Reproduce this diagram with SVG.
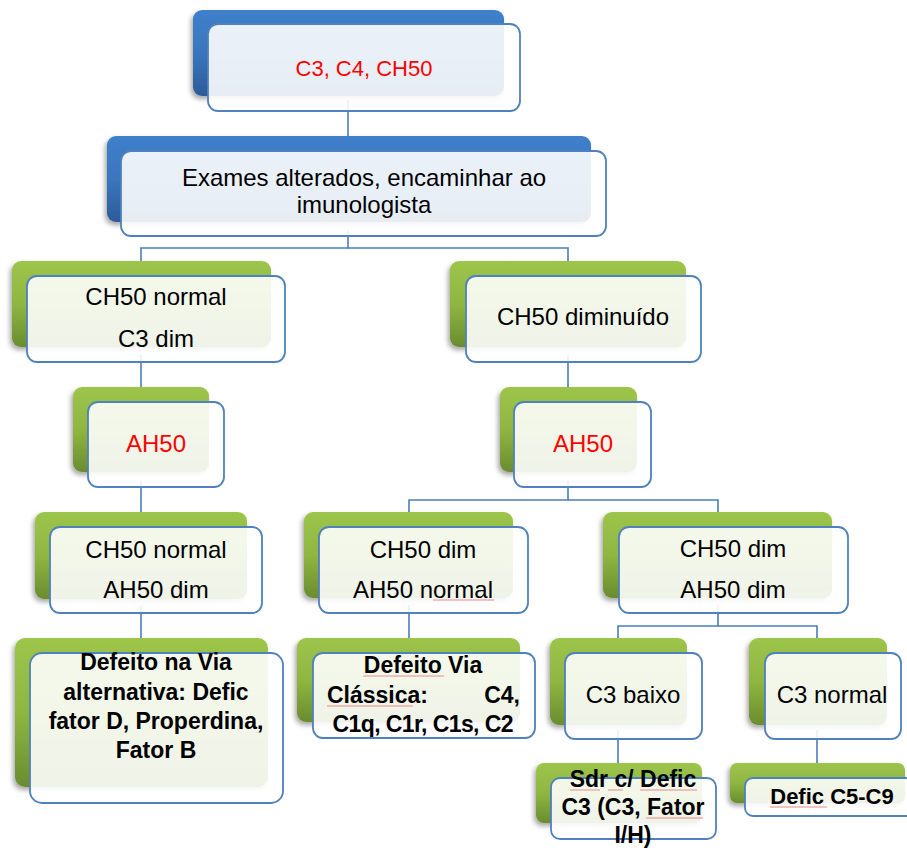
<svg xmlns="http://www.w3.org/2000/svg" width="907" height="850" viewBox="0 0 907 850">
<defs>
<linearGradient id="gBlue" x1="0" y1="0" x2="0" y2="1">
<stop offset="0" stop-color="#3f80cb"/>
<stop offset="0.5" stop-color="#3a76bd"/>
<stop offset="1" stop-color="#2c5b98"/>
</linearGradient>
<linearGradient id="gGreen" x1="0" y1="0" x2="0" y2="1">
<stop offset="0" stop-color="#9dc54b"/>
<stop offset="0.5" stop-color="#8fb641"/>
<stop offset="1" stop-color="#6a8c2f"/>
</linearGradient>
<filter id="sh" x="-10%" y="-10%" width="120%" height="130%">
<feDropShadow dx="-2" dy="3" stdDeviation="2.5" flood-color="#000" flood-opacity="0.35"/>
</filter>
<style>
.bb{fill:url(#gBlue);filter:url(#sh)}
.bg{fill:url(#gGreen);filter:url(#sh)}
.fr{fill:#ffffff;fill-opacity:0.89;stroke:#4f81bd;stroke-width:1.8}
.t{font-family:"Liberation Sans",Arial,sans-serif;font-size:24px;fill:#000;text-anchor:middle}
.r{fill:#ff0000}
.b{font-weight:bold;font-size:23px}
.con{fill:none;stroke:#4a7ebb;stroke-width:1.6}
.sq{stroke:#e88a8a;stroke-width:1;fill:none}
</style>
</defs>
<rect width="907" height="850" fill="#ffffff"/>
<g id="connectors" class="con">
<path d="M348 100 V151"/>
<path d="M348 230 V248 H141 V276"/>
<path d="M348 248 H568 V276"/>
<path d="M141 355 V402"/>
<path d="M141 480 V527"/>
<path d="M141 605 V653"/>
<path d="M568 355 V402"/>
<path d="M568 480 V500 H409 V527"/>
<path d="M568 500 H718 V527"/>
<path d="M409 605 V653"/>
<path d="M718 605 V626 H618 V653"/>
<path d="M718 626 H817 V653"/>
<path d="M618 730 V778"/>
<path d="M817 730 V778"/>
</g>
<g id="n1">
<rect class="bb" x="193" y="10" width="311" height="86" rx="9"/>
<rect class="fr" x="208" y="24" width="312" height="87" rx="10"/>
<text class="t r" x="364" y="76" style="font-size:22px">C3, C4, CH50</text>
</g>
<g id="n2">
<rect class="bb" x="107" y="136" width="484" height="86" rx="9"/>
<rect class="fr" x="121" y="151" width="485" height="85" rx="10"/>
<text class="t" x="364" y="186">Exames alterados, encaminhar ao</text>
<text class="t" x="364" y="213">imunologista</text>
</g>
<g id="n3">
<rect class="bg" x="12" y="261" width="259" height="86" rx="9"/>
<rect class="fr" x="27" y="276" width="258" height="86" rx="10"/>
<text class="t" x="156" y="305">CH50 normal</text>
<text class="t" x="156" y="347">C3 dim</text>
</g>
<g id="n4">
<rect class="bg" x="73" y="387" width="136" height="85" rx="9"/>
<rect class="fr" x="88" y="402" width="136" height="85" rx="10"/>
<text class="t r" x="156" y="452">AH50</text>
</g>
<g id="n5">
<rect class="bg" x="35" y="512" width="212" height="87" rx="9"/>
<rect class="fr" x="50" y="527" width="212" height="86" rx="10"/>
<text class="t" x="156" y="558">CH50 normal</text>
<text class="t" x="156" y="598">AH50 dim</text>
</g>
<g id="n6">
<rect class="bg" x="15" y="638" width="253" height="149" rx="10"/>
<rect class="fr" x="30" y="653" width="253" height="150" rx="12"/>
<text class="t b" x="156" y="670">Defeito na Via</text>
<text class="t b" x="156" y="700">alternativa: Defic</text>
<text class="t b" x="156" y="729">fator D, Properdina,</text>
<text class="t b" x="156" y="758">Fator B</text>
</g>
<g id="n7">
<rect class="bg" x="450" y="261" width="236" height="86" rx="9"/>
<rect class="fr" x="466" y="276" width="235" height="86" rx="10"/>
<text class="t" x="583" y="325">CH50 diminuído</text>
</g>
<g id="n8">
<rect class="bg" x="500" y="387" width="137" height="85" rx="9"/>
<rect class="fr" x="514" y="402" width="137" height="85" rx="10"/>
<text class="t r" x="583" y="452">AH50</text>
</g>
<g id="n9">
<rect class="bg" x="304" y="512" width="209" height="86" rx="9"/>
<rect class="fr" x="319" y="527" width="209" height="86" rx="10"/>
<text class="t" x="423" y="558">CH50 dim</text>
<text class="t" x="423" y="598">AH50 normal</text>
<path class="sq" d="M433 600 H494"/>
</g>
<g id="n10">
<rect class="bg" x="297" y="638" width="223" height="84" rx="9"/>
<rect class="fr" x="313" y="653" width="222" height="85" rx="10"/>
<text class="t b" x="423" y="673">Defeito Via</text>
<text class="t b" x="327" y="703" style="text-anchor:start">Clássica:</text>
<text class="t b" x="520" y="703" style="text-anchor:end">C4,</text>
<text class="t b" x="423" y="732" textLength="181">C1q, C1r, C1s, C2</text>
<path class="sq" d="M363 676 H444 M327 706 H413"/>
</g>
<g id="n11">
<rect class="bg" x="603" y="512" width="229" height="86" rx="9"/>
<rect class="fr" x="619" y="527" width="229" height="86" rx="10"/>
<text class="t" x="733" y="557">CH50 dim</text>
<text class="t" x="733" y="598">AH50 dim</text>
</g>
<g id="n12">
<rect class="bg" x="550" y="638" width="137" height="87" rx="9"/>
<rect class="fr" x="565" y="653" width="137" height="86" rx="10"/>
<text class="t" x="633" y="703">C3 baixo</text>
</g>
<g id="n13">
<rect class="bg" x="749" y="638" width="138" height="87" rx="9"/>
<rect class="fr" x="765" y="653" width="136" height="86" rx="10"/>
<text class="t" x="832" y="703">C3 normal</text>
</g>
<g id="n14">
<rect class="bg" x="536" y="763" width="166" height="60" rx="8"/>
<rect class="fr" x="551" y="778" width="165" height="61" rx="9"/>
<text class="t b" x="633" y="787">Sdr c/ Defic</text>
<text class="t b" x="633" y="815">C3 (C3, Fator</text>
<text class="t b" x="633" y="843">I/H)</text>
<path class="sq" d="M570 790 H600 M608 790 H623 M640 790 H697 M646 818 H703"/>
</g>
<g id="n15">
<rect class="bg" x="730" y="763" width="175" height="40" rx="7"/>
<rect class="fr" x="745" y="778" width="172" height="38" rx="8"/>
<text class="t b" x="832" y="804" style="font-size:22px">Defic C5-C9</text>
<path class="sq" d="M770 807 H827"/>
</g>
</svg>
